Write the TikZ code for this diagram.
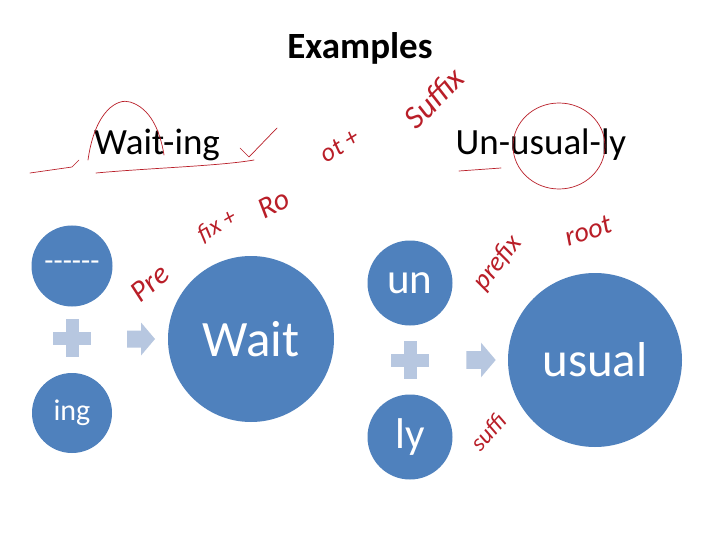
\documentclass[tikz,border=0pt]{standalone}
\usepackage{fontspec}
\setmainfont{Carlito}
\usetikzlibrary{positioning}

\definecolor{bead}{HTML}{4F81BD}
\definecolor{beadlight}{HTML}{B7C7E0}
\definecolor{ink}{RGB}{185,30,40}

\tikzset{
  plus/.pic = {
    \fill[beadlight] (-6.5,-19) rectangle (6.5,19);
    \fill[beadlight] (-19,-6.5) rectangle (19,6.5);
  },
  push/.pic = {
    \fill[beadlight] (-14,-8.5) -- (0,-8.5) -- (0,-16.5) -- (14,0)
      -- (0,16.5) -- (0,8.5) -- (-14,8.5) -- cycle;
  }
}

\begin{document}
\begin{tikzpicture}[x=1pt, y=-1pt,
    part/.style = {circle, fill=bead, text=white, inner sep=0pt},
    word/.style = {font=\fontsize{37}{40}\selectfont},
    scrawl/.style = {text=ink, inner sep=0pt},
    pen/.style = {draw=ink, line width=0.7pt, line cap=round, line join=round}]
	\useasboundingbox[fill=white] (0,0) rectangle (720,540);

	% headings
	\node[font=\bfseries\fontsize{37}{40}\selectfont] (title) at (360,48) {Examples};
	\node[word] (waiting) at (157,145) {Wait-ing};
	\node[word] (unusual) at (541,145) {Un-usual-ly};

	% wait + ing
	\node[part, minimum size=81, font=\fontsize{30}{32}\selectfont] (blank) at (72,266)
		{\hbox{-}\hbox{-}\hbox{-}\hbox{-}\hbox{-}\hbox{-}};
	\node[part, minimum size=80, font=\fontsize{30}{32}\selectfont] (ing) at (72,413) {ing};
	\node[part, minimum size=166, font=\fontsize{51}{54}\selectfont] (wait) at (251,339) {Wait};
	\pic at (72,338) {plus};
	\pic at (141,339) {push};

	% un + usual + ly
	\node[part, minimum size=85, font=\fontsize{43}{46}\selectfont] (un) at (410,283) {un};
	\node[part, minimum size=85, font=\fontsize{43}{46}\selectfont] (ly) at (410,437) {ly};
	\node[part, minimum size=174, font=\fontsize{49}{52}\selectfont] (usual) at (595,360) {usual};
	\pic at (410,360) {plus};
	\pic[scale=1.05] at (481,360) {push};

	% red notes
	\node[scrawl, rotate=40, font=\itshape\fontsize{30}{32}\selectfont] (pre) at (150,283) {Pre};
	\node[scrawl, rotate=30, font=\itshape\fontsize{24}{26}\selectfont] (fix) at (217,226) {fix +};
	\node[scrawl, rotate=28, font=\itshape\fontsize{30}{32}\selectfont] (ro) at (274,204) {Ro};
	\node[scrawl, rotate=32, font=\itshape\fontsize{26}{28}\selectfont] (ot) at (340,146) {ot +};
	\node[scrawl, rotate=45, font=\itshape\fontsize{32}{34}\selectfont] (suffix) at (434,98) {Suffix};
	\node[scrawl, rotate=52, font=\itshape\fontsize{27}{29}\selectfont] (prefix) at (498,263) {prefix};
	\node[scrawl, rotate=18, font=\itshape\fontsize{28}{30}\selectfont] (root) at (588,231) {root};
	\node[scrawl, rotate=48, font=\itshape\fontsize{24}{26}\selectfont] (suffi) at (488,432) {suffi};

	\draw[pen] (88,160) .. controls (95,110) and (118,98) .. (130,102)
		.. controls (150,108) and (160,130) .. (164,155);
	\draw[pen] (30,173) -- (72,167) -- (79,160);
	\draw[pen] (96,173) .. controls (150,168) and (220,166) .. (254,160);
	\draw[pen] (240,148) -- (249,157) -- (277,128);
	\draw[pen] (459,171) -- (501,168);
	\draw[pen] (559,146) ellipse [x radius=46, y radius=43];
\end{tikzpicture}
\end{document}
